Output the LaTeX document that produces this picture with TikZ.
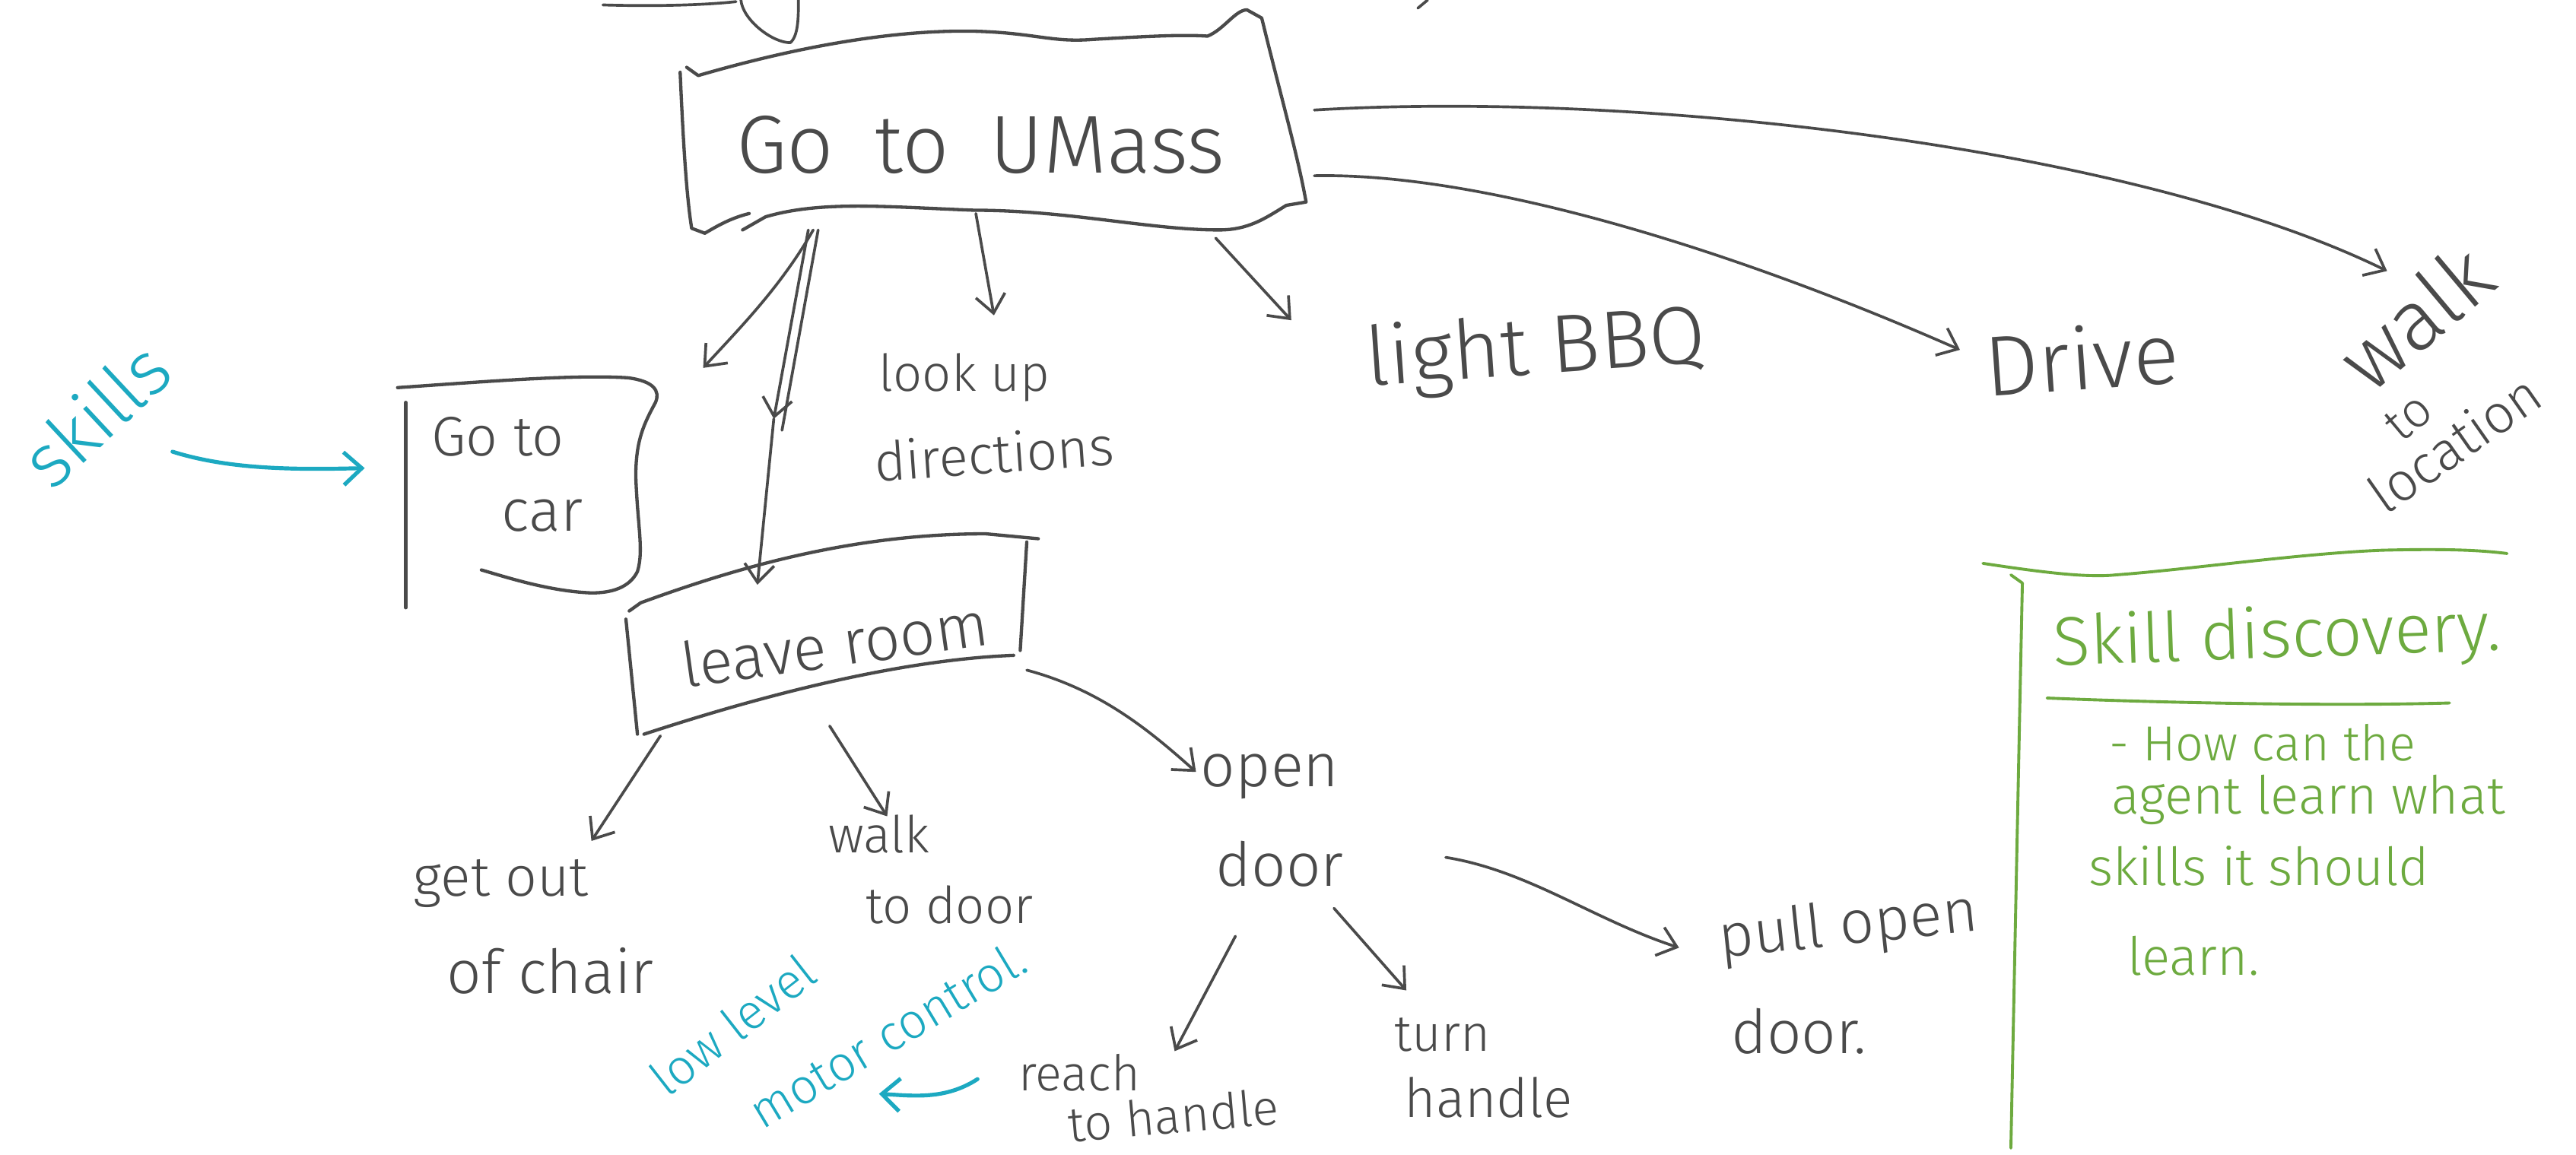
\documentclass[tikz,border=0pt]{standalone}
\usepackage{fontspec}
\setmainfont{Fira Sans}[UprightFont={* Light}]
\usetikzlibrary{arrows.meta}
\definecolor{inkc}{HTML}{4A4A4A}
\definecolor{cyanc}{HTML}{1CA9C1}
\definecolor{greenc}{HTML}{6DAA3F}
\newcommand\fs[1]{\fontsize{#1}{#1}\selectfont}
\tikzset{
  ink/.style={draw=inkc, line width=1.7pt, line cap=round, line join=round},
  boxline/.style={draw=inkc, line width=2pt, line cap=round, line join=round},
  arr/.style={ink, -{Straight Barb[length=11pt,width=18pt,line width=1.7pt]}},
  carr/.style={draw=cyanc, line width=2.4pt, line cap=round, -{Straight Barb[length=11pt,width=20pt,line width=2.4pt]}},
  gline/.style={draw=greenc, line width=1.8pt, line cap=round, line join=round},
  hw/.style={text=inkc, inner sep=0pt},
  hwc/.style={text=cyanc, inner sep=0pt},
  hwg/.style={text=greenc, inner sep=0pt},
}
\begin{document}
\begin{tikzpicture}[x=1pt,y=-1pt]
\useasboundingbox[fill=white] (0,0) rectangle (1568,703);

% partial strokes at the top edge
\draw[ink] (367,3) .. controls (400,4) and (430,3) .. (448,1);
\draw[ink] (451,0) .. controls (452,12) and (470,26) .. (481,26) .. controls (486,22) and (486,10) .. (486,0);
\draw[ink] (863,5) -- (869,0);

% Go to UMass box
\draw[boxline] (414,44) .. controls (416,90) and (418,120) .. (421,139) -- (429,142);
\draw[boxline] (418,41) -- (425,46) .. controls (480,30) and (540,18) .. (593,19)
  .. controls (630,20) and (640,26) .. (665,24) .. controls (700,22) and (720,21) .. (735,22)
  .. controls (745,18) and (752,6) .. (759,6) -- (768,11)
  .. controls (780,60) and (790,95) .. (795,123) -- (783,125)
  .. controls (770,133) and (760,140) .. (742,140)
  .. controls (700,140) and (650,128) .. (593,128)
  .. controls (540,126) and (500,122) .. (466,132) -- (452,140);
\draw[boxline] (429,142) .. controls (436,138) and (444,133) .. (456,130);
\node[hw, font=\fs{50}] (umass) at (597,88) {Go\hspace{.5em}to\hspace{.5em}UMass};

% Go to car box
\draw[boxline] (247,245) -- (247,370);
\draw[boxline] (242,236) .. controls (300,232) and (350,228) .. (382,230)
  .. controls (398,232) and (402,238) .. (399,245)
  .. controls (392,258) and (387,268) .. (387,290)
  .. controls (388,320) and (392,335) .. (388,348)
  .. controls (383,358) and (372,361) .. (360,361)
  .. controls (335,360) and (310,352) .. (293,347);
\node[hw, font=\fs{34}] (car1) at (303,266) {Go to};
\node[hw, font=\fs{36}] (car2) at (330,314) {car};

% leave room box
\draw[boxline] (383,372) -- (390,367) .. controls (450,345) and (520,325) .. (600,325) -- (632,328);
\draw[boxline] (381,377) -- (388,447);
\draw[boxline] (625,330) -- (621,396);
\draw[boxline] (392,447) .. controls (450,428) and (540,402) .. (617,399);
\node[hw, font=\fs{38}, rotate=8] (leave) at (508,392) {leave room};

% other texts
\node[hw, font=\fs{31}] (look1) at (587,230) {look up};
\node[hw, font=\fs{33}, rotate=4] (look2) at (605,276) {directions};
\node[hw, font=\fs{50}, rotate=4] (bbq) at (935,214) {light BBQ};
\node[hw, font=\fs{52}, rotate=4] (drive) at (1267,218) {Drive};
\node[hw, font=\fs{52}, rotate=40] (walk1) at (1470,193) {walk};
\node[hw, font=\fs{30}, rotate=40] (walk2) at (1466,254) {to};
\node[hw, font=\fs{33}, rotate=35, anchor=base west] (walk3) at (1452,314) {location};

\node[hw, font=\fs{34}] (chair1) at (305,538) {get out};
\node[hw, font=\fs{37}] (chair2) at (335,591) {of chair};
\node[hw, font=\fs{31}] (door1) at (535,508) {walk};
\node[hw, font=\fs{31}] (door2) at (578,551) {to door};
\node[hw, font=\fs{37}] (open1) at (773,473) {open};
\node[hw, font=\fs{37}] (open2) at (779,526) {door};
\node[hw, font=\fs{30}] (reach1) at (657,653) {reach};
\node[hw, font=\fs{30}, rotate=5] (reach2) at (714,679) {to handle};
\node[hw, font=\fs{31}] (turn1) at (878,630) {turn};
\node[hw, font=\fs{33}] (turn2) at (906,668) {handle};
\node[hw, font=\fs{37}, rotate=6] (pull1) at (1125,565) {pull open};
\node[hw, font=\fs{37}] (pull2) at (1095,628) {door.};

% cyan notes
\node[hwc, font=\fs{46}, rotate=43] (skills) at (58,252) {skills};
\node[hwc, font=\fs{30}, rotate=38] (low1) at (446,624) {low level};
\node[hwc, font=\fs{30}, rotate=31] (low2) at (540,630) {motor control.};

% green box
\draw[gline] (1207,343) .. controls (1240,348) and (1270,352) .. (1288,350)
  .. controls (1330,347) and (1400,337) .. (1450,335) .. controls (1490,334) and (1510,335) .. (1526,337);
\draw[gline] (1224,350) -- (1231,355) .. controls (1229,450) and (1226,600) .. (1224,699);
\draw[gline] (1246,425) .. controls (1320,428) and (1420,430) .. (1491,428);
\node[hwg, font=\fs{42}, rotate=2] (sd) at (1386,389) {Skill discovery.};
\node[hwg, font=\fs{30}] (g1) at (1377,452) {- How can the};
\node[hwg, font=\fs{32}] (g2) at (1405,487) {agent learn what};
\node[hwg, font=\fs{32}] (g3) at (1375,527) {skills it should};
\node[hwg, font=\fs{32}] (g4) at (1335,582) {learn.};

% connector end points
\coordinate (uA) at (495,140);  \coordinate (tA) at (428,224);
\coordinate (uB) at (492,140);  \coordinate (mB) at (471,255); \coordinate (tB) at (461,356);
\coordinate (uB2) at (498,140); \coordinate (mB2) at (476,262);
\coordinate (uC) at (594,130);  \coordinate (tC) at (605,192);
\coordinate (uD) at (740,145);  \coordinate (tD) at (786,195);
\coordinate (uE) at (800,107);  \coordinate (tE) at (1193,213);
\coordinate (uF) at (800,67);   \coordinate (tF) at (1453,165);
\coordinate (lG) at (402,448);  \coordinate (tG) at (360,512);
\coordinate (lH) at (505,442);  \coordinate (tH) at (540,497);
\coordinate (lI) at (625,408);  \coordinate (tI) at (728,470);
\coordinate (oJ) at (752,570);  \coordinate (tJ) at (715,640);
\coordinate (oK) at (812,553);  \coordinate (tK) at (856,603);
\coordinate (oL) at (880,522);  \coordinate (tL) at (1022,577);
\coordinate (sS) at (105,275);  \coordinate (tS) at (222,285);
\coordinate (sM) at (595,657);  \coordinate (tM) at (535,666);

% connectors
\draw[arr] (uA) .. controls (475,175) and (450,200) .. (tA);
\draw[arr] (uB) -- (mB);
\draw[arr] (mB) -- (tB);
\draw[ink] (uB2) -- (mB2);
\draw[arr] (uC) -- (tC);
\draw[arr] (uD) -- (tD);
\draw[arr] (uE) .. controls (900,105) and (1050,150) .. (tE);
\draw[arr] (uF) .. controls (1000,55) and (1300,90) .. (tF);
\draw[arr] (lG) -- (tG);
\draw[arr] (lH) -- (tH);
\draw[arr] (lI) .. controls (670,420) and (700,445) .. (tI);
\draw[arr] (oJ) -- (tJ);
\draw[arr] (oK) -- (tK);
\draw[arr] (oL) .. controls (930,530) and (970,560) .. (tL);
\draw[carr] (sS) .. controls (140,286) and (180,286) .. (tS);
\draw[carr] (sM) .. controls (575,670) and (555,667) .. (tM);
\end{tikzpicture}
\end{document}
